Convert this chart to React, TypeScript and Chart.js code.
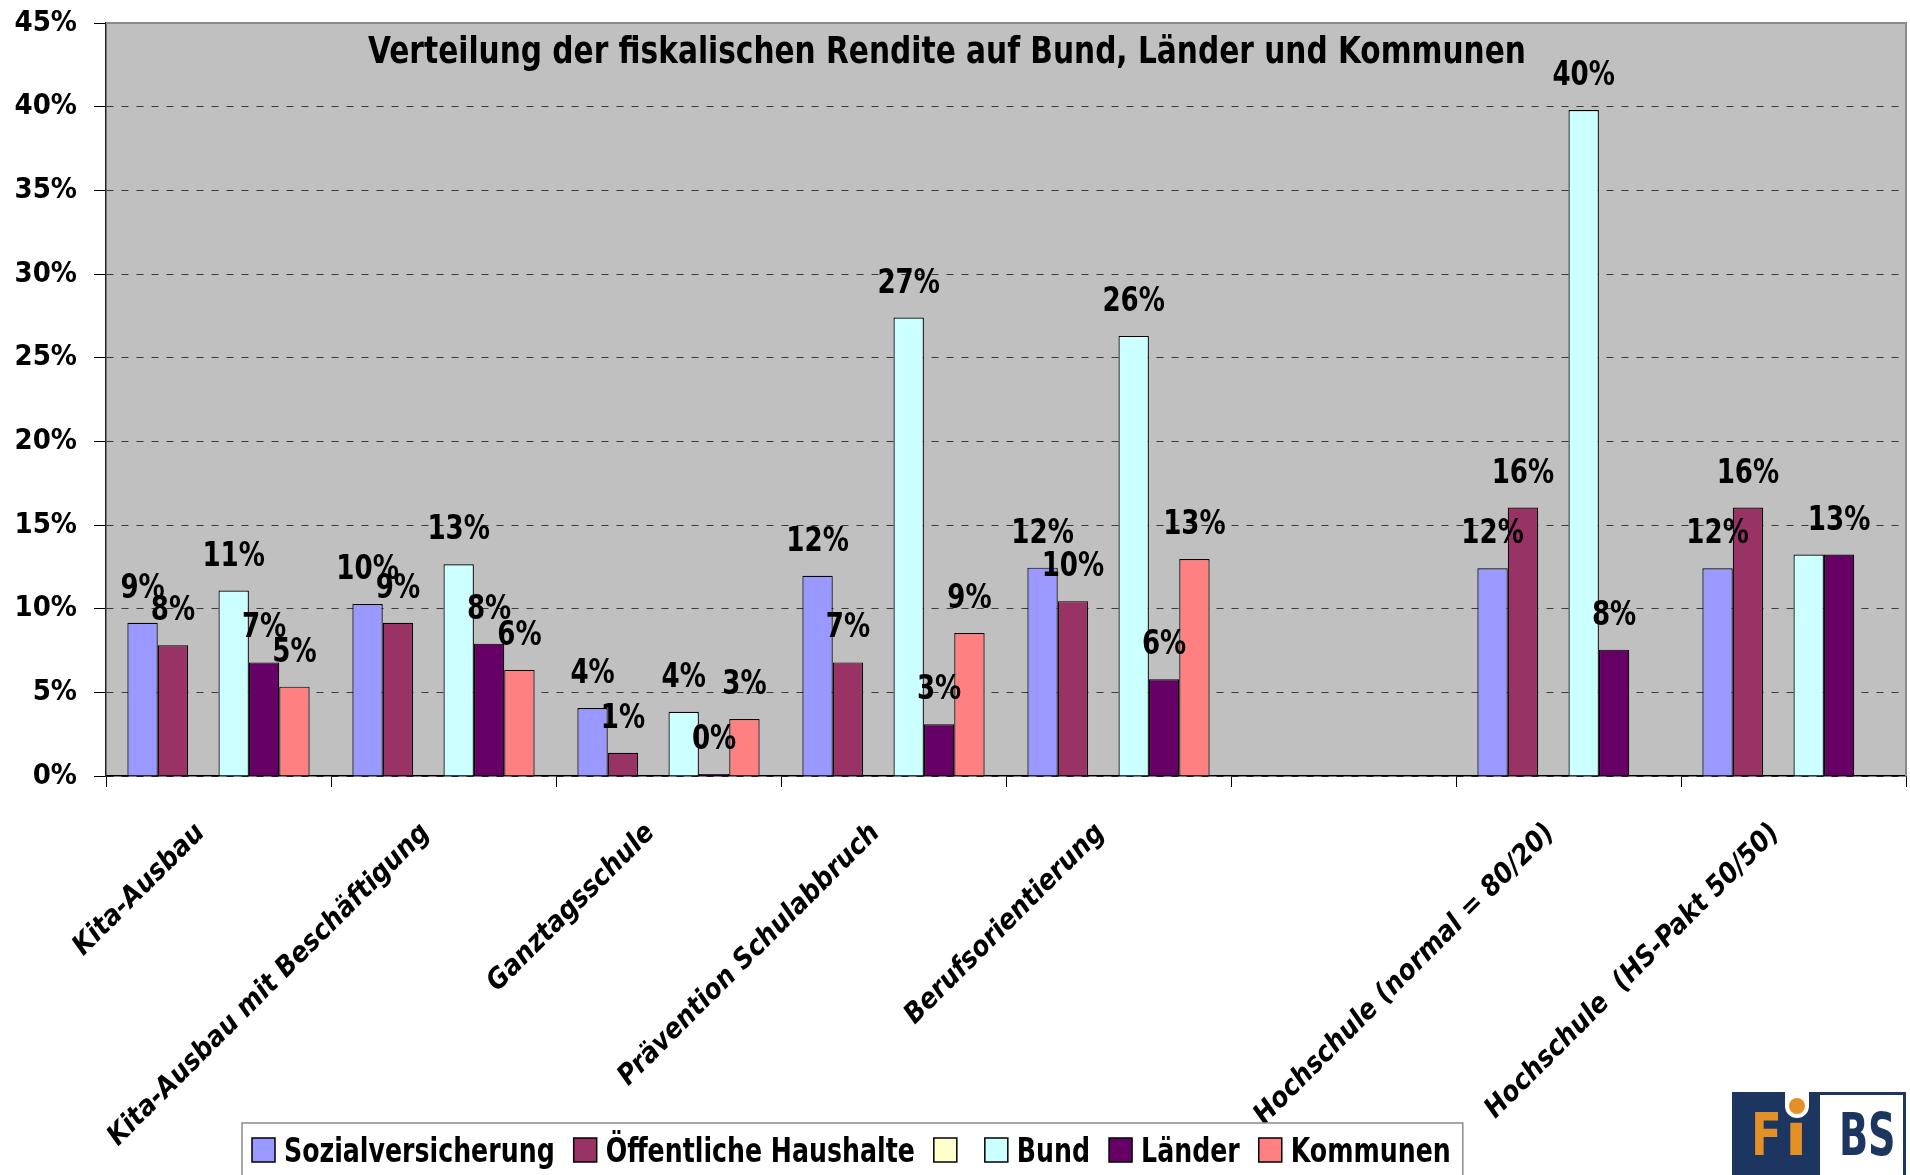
import React, { useEffect, useRef } from 'react';
import { Chart, registerables } from 'chart.js';

Chart.register(...registerables);

const FONT = "'Liberation Sans Narrow', 'Arial Narrow', 'DejaVu Sans Condensed', 'Liberation Sans', sans-serif";

const chartTitle = 'Verteilung der fiskalischen Rendite auf Bund, Länder und Kommunen';

const categories = [
  'Kita-Ausbau',
  'Kita-Ausbau mit Beschäftigung',
  'Ganztagsschule',
  'Prävention Schulabbruch',
  'Berufsorientierung',
  '',
  'Hochschule (normal = 80/20)',
  'Hochschule  (HS-Pakt 50/50)',
];

const seriesNames = ['Sozialversicherung', 'Öffentliche Haushalte', '', 'Bund', 'Länder', 'Kommunen'];
const seriesColors = ['#9999FF', '#993366', '#FFFFCC', '#CCFFFF', '#660066', '#FF8080'];

const sozialversicherung = [9.16, 10.28, 4.06, 11.97, 12.45, null, 12.41, 12.41];
const oeffentlicheHaushalte = [7.81, 9.16, 1.39, 6.79, 10.45, null, 16.04, 16.04];
const leereReihe = [null, null, null, null, null, null, null, null];
const bund = [11.08, 12.65, 3.84, 27.4, 26.3, null, 39.8, 13.23];
const laender = [6.79, 7.91, 0.12, 3.09, 5.78, null, 7.55, 13.23];
const kommunen = [5.34, 6.34, 3.4, 8.55, 12.97, null, null, null];

const seriesValues = [sozialversicherung, oeffentlicheHaushalte, leereReihe, bund, laender, kommunen];

// value labels that are not shown in the original (series index, category index)
const hiddenValueLabels = [[3, 7]];

const yMin = 0;
const yMax = 45;
const yStep = 5;

function condensedText(ctx: CanvasRenderingContext2D, text: string, x: number, y: number, sx: number, align: CanvasTextAlign) {
  ctx.save();
  ctx.translate(x, y);
  ctx.scale(sx, 1);
  ctx.textAlign = align;
  ctx.fillText(text, 0, 0);
  ctx.restore();
}

const plotFrame = {
  id: 'plotFrame',
  beforeDraw(chart: any) {
    const { ctx, chartArea: a } = chart;
    ctx.save();
    ctx.fillStyle = '#FFFFFF';
    ctx.fillRect(0, 0, chart.width, chart.height);
    ctx.fillStyle = '#C0C0C0';
    ctx.fillRect(a.left, a.top, a.right - a.left, a.bottom - a.top);
    ctx.restore();
  },
  afterDraw(chart: any) {
    const { ctx, chartArea: a } = chart;
    ctx.save();
    ctx.strokeStyle = '#8A8A8A';
    ctx.lineWidth = 2;
    ctx.beginPath();
    ctx.moveTo(a.left, a.top);
    ctx.lineTo(a.right, a.top);
    ctx.lineTo(a.right, a.bottom);
    ctx.stroke();
    ctx.restore();
  },
};

const valueLabels = {
  id: 'valueLabels',
  afterDatasetsDraw(chart: any) {
    const { ctx } = chart;
    ctx.save();
    ctx.fillStyle = '#000';
    ctx.font = `bold 33px ${FONT}`;
    ctx.textBaseline = 'alphabetic';
    chart.data.datasets.forEach((ds: any, di: number) => {
      const meta = chart.getDatasetMeta(di);
      meta.data.forEach((el: any, i: number) => {
        const v = ds.data[i];
        if (v === null || v === undefined) return;
        if (hiddenValueLabels.some(([s, c]) => s === di && c === i)) return;
        condensedText(ctx, Math.round(v) + '%', el.x, el.y - 25, 0.88, 'center');
      });
    });
    ctx.restore();
  },
};

const titleAndLegend = {
  id: 'titleAndLegend',
  afterDraw(chart: any) {
    const { ctx } = chart;
    ctx.save();
    // title (inside plot area, as in the original)
    ctx.fillStyle = '#000';
    ctx.font = `bold 38px ${FONT}`;
    ctx.textBaseline = 'alphabetic';
    condensedText(ctx, chartTitle, 947, 63, 0.867, 'center');

    // legend
    const sx = 0.825;
    ctx.font = `bold 34px ${FONT}`;
    const left = 242;
    const top = 1123;
    let x = left + 10;
    const items: { x: number; color: string; label: string }[] = [];
    chart.data.datasets.forEach((ds: any) => {
      items.push({ x, color: ds.backgroundColor, label: ds.label });
      x += 23 + 9 + ctx.measureText(ds.label).width * sx + 19;
    });
    const right = x - 19 + 12;
    ctx.fillStyle = '#FFFFFF';
    ctx.fillRect(left, top, right - left, 80);
    ctx.strokeStyle = '#8A8A8A';
    ctx.lineWidth = 1.5;
    ctx.strokeRect(left, top, right - left, 80);
    items.forEach((it) => {
      ctx.fillStyle = it.color;
      ctx.fillRect(it.x, 1138, 23, 24);
      ctx.strokeStyle = '#000';
      ctx.lineWidth = 1.5;
      ctx.strokeRect(it.x, 1138, 23, 24);
      ctx.fillStyle = '#000';
      condensedText(ctx, it.label, it.x + 32, 1162, sx, 'left');
    });

    // FiBS logo
    const navy = '#1C3561';
    const orange = '#E39126';
    ctx.fillStyle = navy;
    ctx.fillRect(1732, 1092, 88, 90);
    ctx.fillStyle = '#FFFFFF';
    ctx.fillRect(1820, 1095, 84, 90);
    ctx.strokeStyle = navy;
    ctx.lineWidth = 3;
    ctx.beginPath();
    ctx.moveTo(1820, 1093.5);
    ctx.lineTo(1904.5, 1093.5);
    ctx.lineTo(1904.5, 1180);
    ctx.stroke();
    // white notch above the i
    ctx.fillStyle = '#FFFFFF';
    ctx.beginPath();
    ctx.moveTo(1785, 1092);
    ctx.lineTo(1785, 1106);
    ctx.arc(1797, 1106, 12, Math.PI, 0, true);
    ctx.lineTo(1809, 1092);
    ctx.closePath();
    ctx.fill();
    ctx.fillStyle = orange;
    ctx.beginPath();
    ctx.arc(1797, 1106, 8, 0, Math.PI * 2);
    ctx.fill();
    ctx.font = `bold 59px ${FONT}`;
    ctx.textBaseline = 'alphabetic';
    condensedText(ctx, 'F', 1751, 1155, 0.85, 'left');
    condensedText(ctx, 'ı', 1796, 1155, 1.25, 'center');
    ctx.fillStyle = navy;
    condensedText(ctx, 'BS', 1839, 1155, 0.72, 'left');
    ctx.restore();
  },
};

export default function App() {
  const ref = useRef<HTMLCanvasElement>(null);

  useEffect(() => {
    if (!ref.current) return;
    Chart.defaults.font.family = FONT;
    Chart.defaults.color = '#000';
    const chart = new Chart(ref.current, {
      type: 'bar',
      data: {
        labels: categories,
        datasets: seriesNames.map((name, i) => ({
          label: name,
          data: seriesValues[i],
          backgroundColor: seriesColors[i],
          borderColor: '#000',
          borderWidth: 1.2,
          barPercentage: 1,
          categoryPercentage: 0.81,
        })),
      },
      options: {
        responsive: false,
        animation: false,
        layout: { padding: { left: 0, right: 4, top: 23, bottom: 0 } },
        plugins: {
          legend: { display: false },
          title: { display: false },
          tooltip: { enabled: false },
        },
        scales: {
          x: {
            grid: {
              offset: true,
              drawOnChartArea: false,
              drawTicks: true,
              tickLength: 11,
              tickColor: '#000',
              lineWidth: 1,
            },
            border: { display: true, color: '#000', width: 1.5 },
            ticks: {
              autoSkip: false,
              minRotation: 45,
              maxRotation: 45,
              labelOffset: -18,
              padding: 30,
              color: '#000',
              font: { family: FONT, size: 28, weight: 'bold', style: 'italic' },
            },
            afterFit: (s: any) => {
              s.height = 399;
              s.paddingLeft = 0;
              s.paddingRight = 0;
            },
          },
          y: {
            min: yMin,
            max: yMax,
            ticks: {
              stepSize: yStep,
              padding: 17,
              color: '#000',
              font: { family: FONT, size: 29, weight: 'bold' },
              callback: (v: any) => v + '%',
            },
            grid: {
              color: '#3A3A3A',
              lineWidth: 1,
              drawTicks: true,
              tickLength: 12,
              tickColor: '#000',
            },
            border: { display: true, color: '#222', width: 1.5, dash: [7, 8] },
            afterFit: (s: any) => {
              s.width = 106;
              s.paddingTop = 0;
              s.paddingBottom = 0;
            },
          },
        },
      },
      plugins: [plotFrame, valueLabels, titleAndLegend],
    } as any);
    return () => chart.destroy();
  }, []);

  return (
    <div style={{ position: 'fixed', left: 0, top: 0, width: 1910, height: 1175, background: '#fff' }}>
      <canvas ref={ref} width={1910} height={1175} style={{ width: 1910, height: 1175, display: 'block' }} />
    </div>
  );
}
